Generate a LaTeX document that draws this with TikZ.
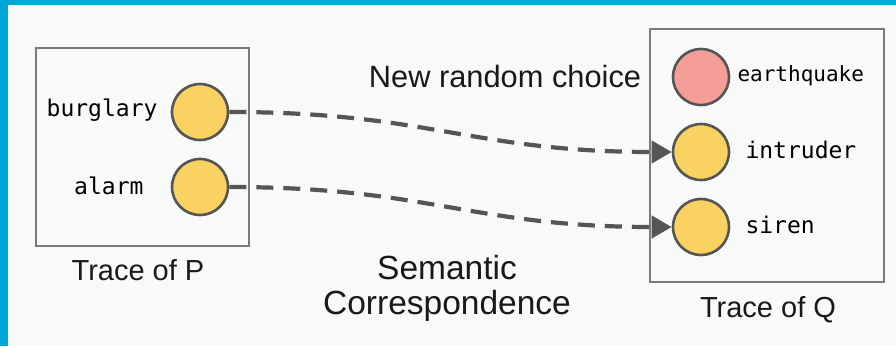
\documentclass[tikz,border=0pt]{standalone}
\usepackage{fontspec}
\setmainfont{Liberation Sans}
\newfontfamily\monofam{DejaVu Sans Mono}
\usetikzlibrary{arrows.meta}
\definecolor{bluebar}{HTML}{00A5DA}
\definecolor{bgc}{HTML}{F8FAF8}
\definecolor{yel}{HTML}{F9D262}
\definecolor{pinkc}{HTML}{F59E98}
\definecolor{edgec}{HTML}{555555}
\definecolor{boxc}{HTML}{7A7A7A}
\begin{document}
\begin{tikzpicture}[x=1pt,y=-1pt,
  ball/.style={circle,draw=edgec,line width=2.6pt,minimum size=56pt,inner sep=0pt},
  ylw/.style={ball,fill=yel},
  pnk/.style={ball,fill=pinkc},
  frame/.style={draw=boxc,line width=1.4pt},
  lbl/.style={font=\monofam\fontsize{23}{27}\selectfont,text=black},
  captext/.style={font=\fontsize{29}{35}\selectfont,text=black!90},
  link/.style={draw=edgec,line width=4.2pt,dash pattern=on 17pt off 10pt,
    -{Triangle[length=20pt,width=22pt]}}]
\useasboundingbox (0,0) rectangle (896,346);
\fill[bgc] (0,0) rectangle (896,346);
\fill[bluebar] (0,0) rectangle (896,5);
\fill[bluebar] (0,0) rectangle (8,346);
% boxes
\draw[frame] (36,48) rectangle (249,246);
\draw[frame] (650,29) rectangle (884,282);
% left circles
\node[ylw] (b) at (200,112) {};
\node[ylw] (a) at (200,187) {};
\node[lbl,anchor=east] (bl) at (161,110) {burglary};
\node[lbl,anchor=east] (al) at (147,186) {alarm};
% right circles
\node[pnk] (e) at (701,77) {};
\node[ylw] (i) at (701,152) {};
\node[ylw] (s) at (701,227) {};
\node[lbl,anchor=west,font=\monofam\fontsize{21}{25}\selectfont] (el) at (734,76) {earthquake};
\node[lbl,anchor=west] (il) at (742,150) {intruder};
\node[lbl,anchor=west] (sl) at (742,225) {siren};
% captions
\node[captext] (tp) at (138,270) {Trace of P};
\node[captext] (tq) at (768,310) {Trace of Q};
\node[captext,font=\fontsize{30.8}{36}\selectfont] (nr) at (505,76) {New random choice};
\node[captext,font=\fontsize{33.5}{38}\selectfont] (se) at (447,268) {Semantic};
\node[captext,font=\fontsize{33.5}{38}\selectfont] (co) at (447,306) {Correspondence};
% connectors
\draw[link] (b.east) .. controls +(200,0) and +(-200,0) .. (i.west);
\draw[link] (a.east) .. controls +(200,0) and +(-200,0) .. (s.west);
\end{tikzpicture}
\end{document}
